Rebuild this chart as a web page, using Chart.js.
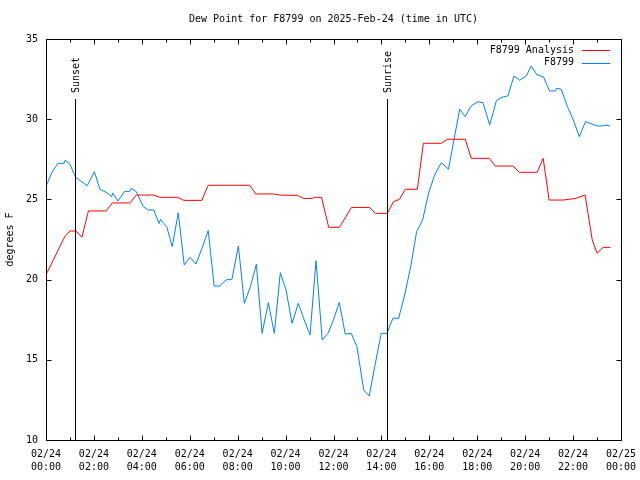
<!DOCTYPE html>
<html>
<head>
<meta charset="utf-8">
<script src="https://cdn.jsdelivr.net/npm/chart.js@4.4.1/dist/chart.umd.min.js"></script>
<style>
  html, body { margin: 0; padding: 0; background: #fff; }
  #graph { display: block; }
</style>
</head>
<body>
<canvas id="graph" width="640" height="480"></canvas>
<script>
// hours since 02/24 00:00 UTC
var analysisHours = [0, 0.78, 1, 1.25, 1.5, 1.77, 2.5, 2.77, 3.5, 3.77, 4.5, 4.75, 5.5, 5.75, 6.5, 6.77, 8.5, 8.76, 9.5, 9.75, 10.5, 10.75, 11.1, 11.2, 11.5, 11.8, 12.25, 12.75, 13.5, 13.75, 14.25, 14.5, 14.75, 15, 15.5, 15.75, 16.5, 16.75, 17.5, 17.75, 18.5, 18.75, 19.5, 19.75, 20.5, 20.75, 21, 21.6, 22.1, 22.5, 22.8, 23, 23.25, 23.55];
var analysisValues = [20.3, 22.67, 23.03, 23.03, 22.64, 24.28, 24.28, 24.78, 24.78, 25.27, 25.27, 25.13, 25.13, 24.94, 24.94, 25.88, 25.88, 25.34, 25.34, 25.27, 25.25, 25.06, 25.06, 25.13, 25.13, 23.26, 23.26, 24.5, 24.5, 24.13, 24.13, 24.86, 25.0, 25.63, 25.63, 28.5, 28.5, 28.75, 28.75, 27.56, 27.56, 27.08, 27.08, 26.69, 26.69, 27.56, 24.96, 24.96, 25.06, 25.27, 22.47, 21.64, 22.01, 22.01];

var stationHours = [0, 0.25, 0.5, 0.75, 0.8, 1, 1.22, 1.72, 2.02, 2.25, 2.5, 2.74, 2.78, 3, 3.28, 3.5, 3.56, 3.76, 4.06, 4.27, 4.5, 4.72, 4.78, 4.92, 5.04, 5.27, 5.52, 5.77, 6.01, 6.26, 6.51, 6.77, 7.02, 7.26, 7.51, 7.76, 8.03, 8.28, 8.53, 8.78, 9.02, 9.28, 9.53, 9.78, 10.02, 10.27, 10.53, 10.78, 11.02, 11.27, 11.53, 11.77, 12, 12.24, 12.49, 12.74, 12.98, 13.26, 13.49, 13.72, 13.99, 14.23, 14.48, 14.72, 14.97, 15.22, 15.47, 15.72, 15.97, 16.22, 16.5, 16.8, 17.03, 17.27, 17.5, 17.75, 18.03, 18.24, 18.52, 18.8, 19.03, 19.28, 19.53, 19.77, 20.05, 20.25, 20.5, 20.76, 21.02, 21.27, 21.3, 21.51, 21.76, 22.01, 22.26, 22.52, 22.78, 23.01, 23.26, 23.3, 23.54];
var stationValues = [25.8, 26.7, 27.25, 27.25, 27.44, 27.2, 26.4, 25.85, 26.73, 25.63, 25.46, 25.17, 25.4, 24.9, 25.5, 25.5, 25.69, 25.5, 24.55, 24.34, 24.34, 23.5, 23.75, 23.51, 23.3, 22.05, 24.17, 20.91, 21.39, 20.97, 21.95, 23.05, 19.6, 19.6, 19.98, 20.02, 22.09, 18.52, 19.56, 20.95, 16.65, 18.56, 16.65, 20.43, 19.35, 17.27, 18.52, 17.48, 16.55, 21.18, 16.23, 16.65, 17.5, 18.58, 16.6, 16.65, 15.82, 13.12, 12.74, 14.57, 16.65, 16.65, 17.59, 17.59, 19.04, 20.8, 22.99, 23.72, 25.4, 26.52, 27.29, 26.88, 28.75, 30.62, 30.16, 30.84, 31.09, 31.03, 29.64, 31.16, 31.37, 31.45, 32.69, 32.43, 32.7, 33.32, 32.76, 32.65, 31.76, 31.76, 31.93, 31.86, 30.8, 29.95, 28.91, 29.85, 29.7, 29.58, 29.58, 29.64, 29.58];

var dateLabels = ["02/24", "02/24", "02/24", "02/24", "02/24", "02/24", "02/24", "02/24", "02/24", "02/24", "02/24", "02/24", "02/25"];
var timeLabels = ["00:00", "02:00", "04:00", "06:00", "08:00", "10:00", "12:00", "14:00", "16:00", "18:00", "20:00", "22:00", "00:00"];

var sunNames = ["Sunset", "Sunrise"];
var sunHours = [1.22, 14.25];

var FONT = "'DejaVu Sans Mono', 'Liberation Mono', monospace";

function toPoints(xs, ys) {
  var pts = [];
  for (let i = 0; i < xs.length; i++) pts.push({x: xs[i], y: ys[i]});
  return pts;
}

// frame, inward ticks, sun markers and the legend, gnuplot style
var decorations = {
  id: "decorations",
  afterDatasetsDraw(chart) {
    var ctx = chart.ctx;
    var a = chart.chartArea;
    var xs = chart.scales.x;
    var ys = chart.scales.y;
    var L = Math.round(a.left) + 0.5, R = Math.round(a.right) + 0.5;
    var T = Math.round(a.top) + 0.5, B = Math.round(a.bottom) + 0.5;
    ctx.save();
    ctx.strokeStyle = "#000";
    ctx.lineWidth = 1;

    // sunset / sunrise
    ctx.font = "10px " + FONT;
    ctx.fillStyle = "#000";
    for (let i = 0; i < sunHours.length; i++) {
      var sx = Math.round(xs.getPixelForValue(sunHours[i])) + 0.5;
      ctx.beginPath();
      ctx.moveTo(sx, B);
      ctx.lineTo(sx, 99);
      ctx.stroke();
      ctx.save();
      ctx.translate(sx + 1, 93);
      ctx.rotate(-Math.PI / 2);
      ctx.textAlign = "left";
      ctx.textBaseline = "middle";
      ctx.fillText(sunNames[i], 0, 0);
      ctx.restore();
    }

    ctx.beginPath();
    ctx.rect(L, T, R - L, B - T);
    // x ticks, major every 2h and minor every hour
    for (let h = 0; h <= 24; h++) {
      var px = Math.round(xs.getPixelForValue(h)) + 0.5;
      var len = h % 2 === 0 ? 5 : 3;
      ctx.moveTo(px, B); ctx.lineTo(px, B - len);
      ctx.moveTo(px, T); ctx.lineTo(px, T + len);
    }
    for (let v = 10; v <= 35; v += 5) {
      var py = Math.round(ys.getPixelForValue(v)) + 0.5;
      ctx.moveTo(L, py); ctx.lineTo(L + 5, py);
      ctx.moveTo(R, py); ctx.lineTo(R - 5, py);
    }
    ctx.stroke();

    // legend
    ctx.textAlign = "right";
    ctx.textBaseline = "middle";
    chart.data.datasets.forEach(function (ds, i) {
      var ly = 50 + i * 12.5;
      ctx.fillStyle = "#000";
      ctx.fillText(ds.label, 574, ly);
      ctx.strokeStyle = ds.borderColor;
      ctx.beginPath();
      ctx.moveTo(582, Math.round(ly) + 0.5);
      ctx.lineTo(610, Math.round(ly) + 0.5);
      ctx.stroke();
    });
    ctx.restore();
  }
};

new Chart("graph", {
  type: "line",
  data: {
    datasets: [{
      label: "F8799 Analysis",
      data: toPoints(analysisHours, analysisValues),
      borderColor: "#ff0000",
      borderWidth: 1,
      pointRadius: 0,
      fill: false,
      tension: 0
    }, {
      label: "F8799",
      data: toPoints(stationHours, stationValues),
      borderColor: "#0080ff",
      borderWidth: 1,
      pointRadius: 0,
      fill: false,
      tension: 0
    }]
  },
  options: {
    responsive: false,
    animation: false,
    layout: { padding: { left: 0, right: 19, top: 0, bottom: 0 } },
    plugins: {
      legend: { display: false },
      tooltip: { enabled: false },
      title: {
        display: true,
        text: "Dew Point for F8799 on 2025-Feb-24 (time in UTC)",
        color: "#000",
        fullSize: false,
        font: { family: FONT, size: 10, weight: "normal", lineHeight: 1.2 },
        padding: { top: 13, bottom: 14 }
      }
    },
    scales: {
      x: {
        type: "linear",
        min: 0,
        max: 24,
        grid: { display: false, drawTicks: false },
        border: { display: false },
        afterFit: function (s) {
          s.height = 40;
          s.paddingLeft = 0;
          s.paddingRight = 0;
        },
        ticks: {
          stepSize: 2,
          autoSkip: false,
          maxRotation: 0,
          padding: 8,
          color: "#000",
          font: { family: FONT, size: 10, lineHeight: 1.3 },
          callback: function (v) {
            var i = Math.round(v / 2);
            return [dateLabels[i], timeLabels[i]];
          }
        }
      },
      y: {
        min: 10,
        max: 35,
        grid: { display: false, drawTicks: false },
        border: { display: false },
        afterFit: function (s) {
          s.width = 46;
          s.paddingTop = 0;
          s.paddingBottom = 0;
        },
        title: {
          display: true,
          text: "degrees F",
          color: "#000",
          font: { family: FONT, size: 10, lineHeight: 1.2 },
          padding: 4
        },
        ticks: {
          stepSize: 5,
          padding: 8,
          color: "#000",
          font: { family: FONT, size: 10 }
        }
      }
    }
  },
  plugins: [decorations]
});
</script>
</body>
</html>
